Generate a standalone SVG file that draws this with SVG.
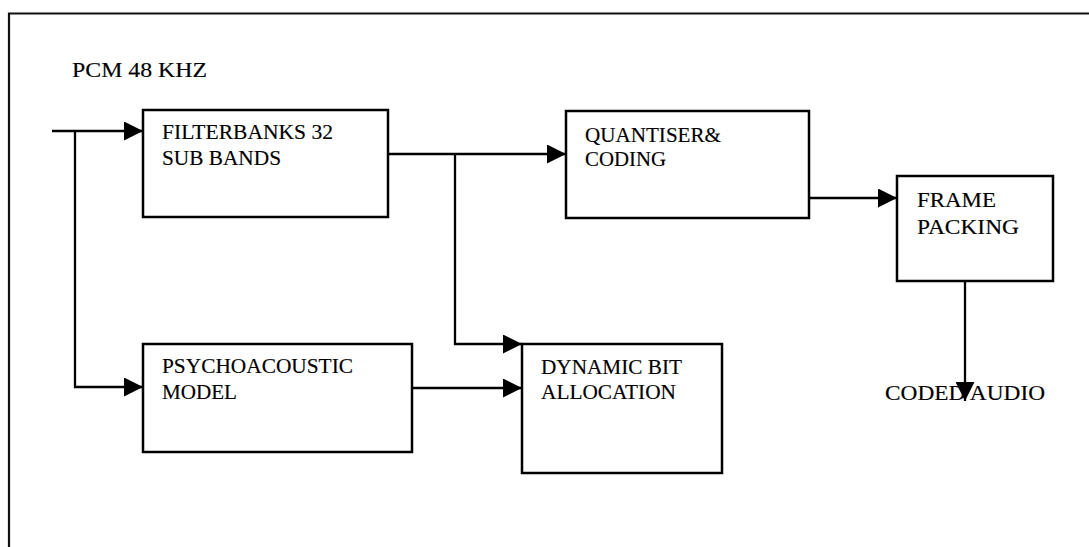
<svg xmlns="http://www.w3.org/2000/svg" width="1089" height="547" viewBox="0 0 1089 547">
<style>
.box{fill:#fff;stroke:#000;stroke-width:2.5}
.ln{fill:none;stroke:#000;stroke-width:2.3}
.frame{fill:none;stroke:#111;stroke-width:2.2}
text{font-family:"Liberation Serif","Times New Roman",serif;font-size:20px;fill:#000;stroke:#000;stroke-width:0.15}
</style>
<defs>
<marker id="ah" markerUnits="userSpaceOnUse" markerWidth="19" markerHeight="19" refX="19" refY="9.5" orient="auto">
<path d="M0,0 L19,9.5 L0,19 Z" fill="#000"/>
</marker>
</defs>
<rect width="1089" height="547" fill="#fff"/>
<g id="frame">
<path class="frame" d="M9,547 V13.5 H1089"/>
</g>
<g id="label-pcm"><text x="72" y="77" textLength="135" lengthAdjust="spacingAndGlyphs">PCM 48 KHZ</text></g>
<g id="filterbanks">
<rect class="box" x="143" y="110" width="245" height="107"/>
<text x="162" y="139" textLength="171" lengthAdjust="spacingAndGlyphs">FILTERBANKS 32</text>
<text x="162" y="165" textLength="119" lengthAdjust="spacingAndGlyphs">SUB BANDS</text>
</g>
<g id="quantiser">
<rect class="box" x="566" y="111" width="243" height="107"/>
<text x="585" y="142" textLength="136" lengthAdjust="spacingAndGlyphs">QUANTISER&amp;</text>
<text x="585" y="166" textLength="81" lengthAdjust="spacingAndGlyphs">CODING</text>
</g>
<g id="framepacking">
<rect class="box" x="897" y="176" width="156" height="105"/>
<text x="917" y="207" textLength="79" lengthAdjust="spacingAndGlyphs">FRAME</text>
<text x="917" y="234" textLength="102" lengthAdjust="spacingAndGlyphs">PACKING</text>
</g>
<g id="psychoacoustic">
<rect class="box" x="143" y="344" width="269" height="108"/>
<text x="162" y="373" textLength="191" lengthAdjust="spacingAndGlyphs">PSYCHOACOUSTIC</text>
<text x="162" y="399" textLength="75" lengthAdjust="spacingAndGlyphs">MODEL</text>
</g>
<g id="dynamicbit">
<rect class="box" x="522" y="344" width="200" height="129"/>
<text x="541" y="374" textLength="141" lengthAdjust="spacingAndGlyphs">DYNAMIC BIT</text>
<text x="541" y="399" textLength="135" lengthAdjust="spacingAndGlyphs">ALLOCATION</text>
</g>
<g id="label-coded"><text x="885" y="400" textLength="160" lengthAdjust="spacingAndGlyphs">CODED AUDIO</text></g>
<g id="connectors">
<path class="ln" d="M52,131 H143" marker-end="url(#ah)"/>
<path class="ln" d="M75,131 V387 H143" marker-end="url(#ah)"/>
<path class="ln" d="M388,154 H566" marker-end="url(#ah)"/>
<path class="ln" d="M455,154 V344 H522" marker-end="url(#ah)"/>
<path class="ln" d="M412,388 H522" marker-end="url(#ah)"/>
<path class="ln" d="M809,198 H897" marker-end="url(#ah)"/>
<path class="ln" d="M965,281 V401" marker-end="url(#ah)"/>
</g>
</svg>
